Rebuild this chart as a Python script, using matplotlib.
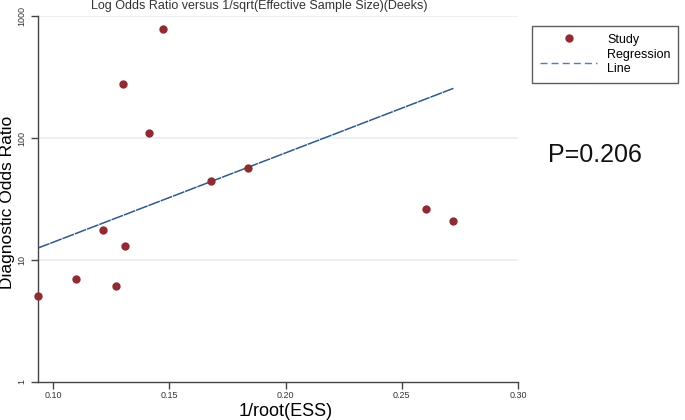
import numpy as np
import matplotlib.pyplot as plt

plt.rcParams["font.family"] = ["Liberation Sans", "DejaVu Sans"]

# study values
inv_root_ess = [0.0935, 0.1099, 0.1215, 0.1271, 0.1310, 0.1301,
                0.1412, 0.1473, 0.1680, 0.1840, 0.2604, 0.2722]
dor = [5.07, 6.98, 17.6, 6.12, 13.0, 277, 110, 782, 44.2, 56.5, 26.0, 21.0]

# regression: log10(DOR) = a + b * x
reg_a = 0.413
reg_b = 7.325

x_ticks = [0.10, 0.15, 0.20, 0.25, 0.30]
x_labels = ["0.10", "0.15", "0.20", "0.25", "0.30"]
y_ticks = [1, 10, 100, 1000]
y_labels = ["1", "10", "100", "1000"]

fig = plt.figure(figsize=(6.85, 4.2), dpi=100)
ax = fig.add_axes([38 / 685, 1 - 382 / 420, 480 / 685, 366 / 420])

for y in y_ticks[1:]:
    ax.axhline(y, color="#e6edf2", lw=1.2, zorder=0)

xs = np.array([min(inv_root_ess), max(inv_root_ess)])
ax.plot(xs, 10 ** (reg_a + reg_b * xs), color="#2e5a8c", lw=1.1,
        ls=(0, (8, 0.6)), zorder=2)
ax.plot(inv_root_ess, dor, "o", color="#8e2b33", ms=6, mec="none",
        zorder=3, clip_on=False)

ax.set_yscale("log")
ax.set_xlim(0.0935, 0.30)
ax.set_ylim(1, 1000)
ax.set_xticks(x_ticks)
ax.set_xticklabels(x_labels, fontsize=6.5, color="#333333")
ax.set_yticks(y_ticks)
ax.set_yticklabels(y_labels, fontsize=6.5, color="#333333", rotation=90,
                   va="center")
ax.minorticks_off()
ax.tick_params(direction="out", length=5, width=1, color="#444444")
ax.tick_params(axis="x", pad=1.5)
ax.tick_params(axis="y", pad=3.5)

for s in ["top", "right"]:
    ax.spines[s].set_visible(False)
for s in ["left", "bottom"]:
    ax.spines[s].set_color("#444444")
    ax.spines[s].set_linewidth(1)

ax.set_xlabel("1/root(ESS)", fontsize=13)
ax.xaxis.set_label_coords((286 - 38) / 480, -(411 - 382) / 366)
ax.set_ylabel("Diagnostic Odds Ratio", fontsize=12.5)
ax.yaxis.set_label_coords(-(38 - 8) / 480, (382 - 202) / 366)
ax.xaxis.label.set_va("center")
ax.yaxis.label.set_va("center")
fig.text(259 / 685, 1 - 6 / 420, "Log Odds Ratio versus 1/sqrt(Effective Sample Size)(Deeks)",
         fontsize=9, ha="center", va="center", color="#333333")

# legend box
h_pt, = ax.plot([], [], "o", color="#8e2b33", ms=6, mec="none")
h_ln, = ax.plot([], [], color="#4f7fae", lw=1, ls=(0, (5, 3)))
leg = fig.legend([h_pt, h_ln], ["Study", "Regression\nLine"],
                 loc="upper left", bbox_to_anchor=(526 / 685, 1 - 20 / 420),
                 fontsize=9, frameon=True, fancybox=False, edgecolor="#333333",
                 handlelength=4.6, handletextpad=0.8, borderpad=0.6,
                 labelspacing=0.3)
leg.get_frame().set_linewidth(1)

fig.text(595 / 685, 1 - 155 / 420, "P=0.206", fontsize=18, ha="center",
         va="center", color="#111111")

fig.savefig("out.png", dpi=100)
